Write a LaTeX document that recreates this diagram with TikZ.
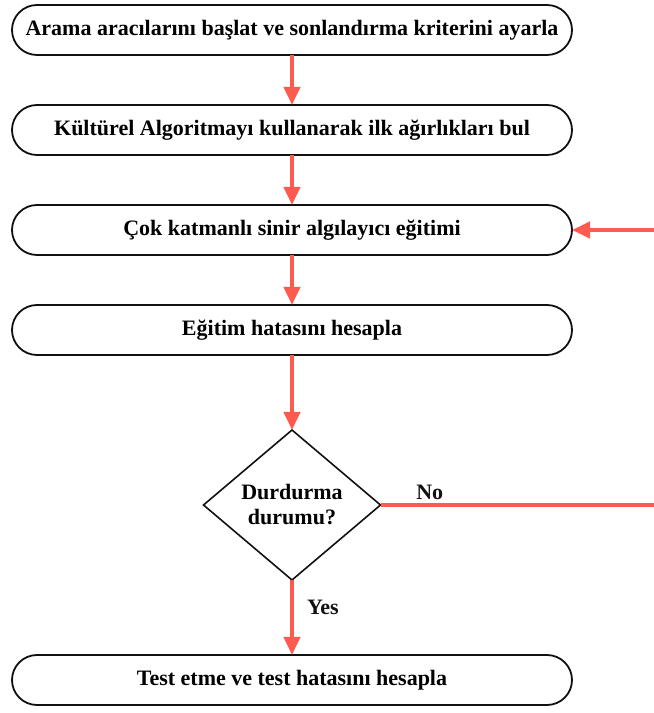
\documentclass[tikz,border=0pt]{standalone}
\usepackage{fontspec}
\setmainfont{Liberation Serif}
\usetikzlibrary{arrows.meta,positioning,shapes.geometric}
\definecolor{flowred}{HTML}{FF5A4F}
\definecolor{inkblack}{HTML}{111111}

\begin{document}
\begin{tikzpicture}[
  x=1pt, y=1pt,
  font=\fontsize{22}{25}\selectfont\bfseries,
  stepbox/.style = {draw=inkblack, line width=1.8pt, fill=white, rounded corners=25pt,
                    minimum width=560pt, minimum height=50pt, inner sep=0pt, outer sep=0pt},
  decide/.style  = {diamond, draw=inkblack, line width=1.6pt, fill=white, outer sep=0pt,
                    minimum width=177pt, minimum height=150pt, inner sep=0pt, align=center},
  ln/.style      = {-{Triangle[length=18pt,width=16pt]}, draw=flowred, line width=4pt},
  lbl/.style     = {inner sep=1pt, text=inkblack},
]
\useasboundingbox (0,0) rectangle (654,713);

% --- the main column -----------------------------------------------------------------------------
\node[stepbox] (init) at (292,683) {Arama aracılarını başlat ve sonlandırma kriterini ayarla};
\node[stepbox, below=50pt of init]  (cult)  {Kültürel Algoritmayı kullanarak ilk ağırlıkları bul};
\node[stepbox, below=50pt of cult]  (train) {Çok katmanlı sinir algılayıcı eğitimi};
\node[stepbox, below=50pt of train] (err)   {Eğitim hatasını hesapla};
\node[decide,  below=75pt of err]   (stop)  {Durdurma\\durumu?};
\node[stepbox, below=75pt of stop]  (test)  {Test etme ve test hatasını hesapla};

% --- straight down -------------------------------------------------------------------------------
\draw[ln] (init) -- (cult);
\draw[ln] (cult) -- (train);
\draw[ln] (train) -- (err);
\draw[ln] (err) -- (stop);
\draw[ln] (stop) -- node[lbl, right=12pt, pos=0.36] {Yes} (test);

% --- the loop back, leaving the picture on the right ---------------------------------------------
\coordinate (edge) at (654,0);
\draw[draw=flowred, line width=4pt] (stop.east) -- node[lbl, above=2pt, pos=0.18] {No} (edge |- stop);
\draw[ln] (edge |- train) -- (train.east);

\end{tikzpicture}
\end{document}
